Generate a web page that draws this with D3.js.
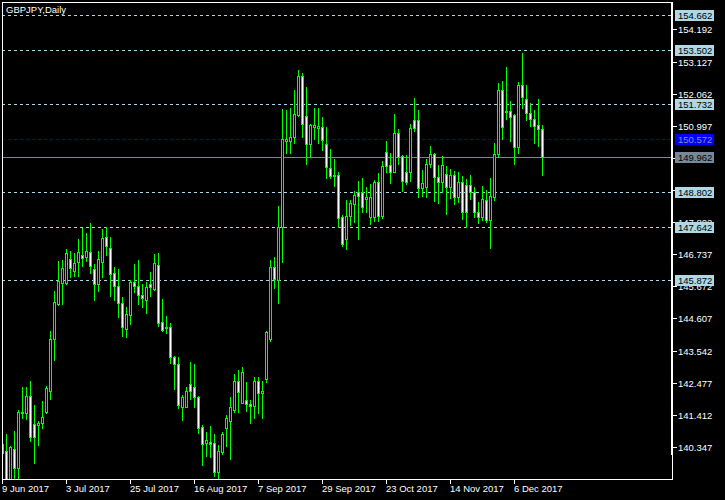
<!DOCTYPE html>
<html><head><meta charset="utf-8">
<script src="https://cdn.jsdelivr.net/npm/d3@7"></script>
<style>html,body{margin:0;padding:0;background:#000;}svg{display:block;}</style>
</head><body>
<script>
const symbolTitle = "GBPJPY,Daily";
const firstDate = "2017-06-09";
const open = [
140.15,140.21,139.02,140.27,139.65,141.46,141.46,142.03,141.10,141.08,
141.13,141.50,142.21,143.92,145.09,145.77,145.77,146.59,146.19,146.47,
146.71,146.64,146.80,146.24,145.74,146.49,147.30,146.93,146.10,145.67,
145.11,144.25,144.71,145.82,145.69,145.38,145.21,145.74,145.57,146.37,
144.48,144.32,144.31,143.33,143.09,141.66,141.68,142.42,142.35,142.00,
141.00,140.49,140.50,140.47,139.50,140.19,140.96,141.22,141.57,142.53,
141.81,141.90,141.77,141.71,142.53,142.12,142.59,143.93,146.30,145.88,
147.63,150.50,150.50,150.64,151.36,152.65,151.32,150.38,150.97,150.93,
150.95,150.38,149.61,149.36,149.36,147.96,147.25,148.02,148.41,148.81,
148.81,148.56,147.96,147.96,149.12,148.02,150.12,149.70,149.47,150.75,
150.00,149.45,149.45,151.18,151.18,148.92,148.96,149.72,150.06,149.29,
149.12,149.39,148.98,149.37,148.63,149.12,149.02,149.02,148.79,148.15,
147.96,148.53,147.87,148.63,150.05,152.17,151.49,151.49,151.35,150.30,
152.34,151.88,151.41,151.21,151.01,150.88];
const high = [
140.58,140.78,140.39,140.87,141.57,142.33,142.33,142.53,141.74,141.21,
141.87,142.37,144.19,145.52,146.51,146.55,146.90,146.84,146.77,147.24,
147.62,147.44,147.77,146.40,146.84,147.57,147.63,147.31,146.31,146.25,
145.32,144.99,145.87,146.41,146.55,145.75,145.81,146.16,146.75,146.78,
145.25,144.69,144.46,143.37,143.34,142.07,142.33,143.16,143.11,142.04,
141.07,140.85,141.04,140.78,140.41,140.84,141.41,142.00,142.77,142.90,
143.00,142.51,141.90,142.68,142.68,142.54,144.19,146.55,146.65,148.34,
151.55,151.52,151.58,152.18,152.85,152.75,152.28,151.06,151.58,151.58,
151.28,150.95,150.22,149.91,149.45,148.04,148.54,148.54,148.83,149.17,
149.28,148.97,149.07,149.20,149.42,149.83,150.49,150.09,151.39,150.89,
150.03,150.03,151.06,151.91,151.52,149.53,149.90,150.33,150.09,149.70,
150.00,149.66,149.56,149.50,149.46,149.33,149.23,149.37,148.97,148.47,
149.00,148.87,149.26,150.43,152.42,152.48,152.94,151.82,151.39,152.44,
153.41,152.35,151.76,151.52,151.88,151.02];
const low = [
139.98,138.75,138.75,138.85,138.92,141.30,141.27,140.55,139.82,140.41,
140.98,141.46,141.94,143.23,145.05,145.10,145.76,145.97,146.02,146.02,
146.36,146.51,146.12,145.23,145.52,145.99,146.71,145.36,145.23,144.67,
144.04,144.00,144.43,145.47,145.10,144.98,144.80,145.36,145.55,144.37,
144.20,144.13,143.14,142.26,141.63,141.23,141.67,141.93,141.68,140.82,
139.75,140.05,140.02,139.39,139.28,140.10,140.38,139.96,141.51,141.51,
141.81,141.55,141.15,141.32,141.46,141.32,142.51,143.87,145.63,145.13,
146.48,150.10,150.10,150.42,151.32,150.64,149.74,149.97,150.55,150.44,
150.19,149.26,149.26,149.01,147.65,147.02,146.91,147.71,147.82,147.24,
148.15,148.15,147.74,147.85,147.85,147.95,149.45,149.11,149.45,149.73,
148.84,149.07,149.18,150.83,148.65,148.68,148.65,149.64,148.51,148.43,
148.79,148.06,148.59,148.39,148.48,147.91,147.63,148.57,147.98,147.78,
147.87,147.81,146.94,148.54,149.97,150.56,151.21,150.50,149.73,150.10,
151.59,151.19,151.00,150.44,150.33,149.37];
const close = [
140.44,139.02,140.35,139.66,141.50,141.52,142.04,140.69,140.69,141.15,
141.33,142.29,143.92,145.14,145.85,146.27,146.77,146.29,146.44,146.80,
146.62,146.83,146.34,145.74,146.57,147.27,147.00,146.07,145.67,145.11,
144.31,144.75,145.82,145.69,145.38,145.28,145.64,145.64,146.44,144.46,
144.23,144.28,143.32,143.09,141.73,142.00,142.20,142.19,141.99,140.96,
140.43,140.58,140.43,139.52,140.21,140.78,141.32,141.67,142.53,142.16,
142.83,141.76,141.69,142.53,142.12,142.20,144.15,146.30,145.91,147.63,
150.57,150.57,150.64,151.38,152.65,151.05,150.38,151.02,151.02,150.99,
150.54,149.62,149.34,149.32,147.95,147.07,148.02,148.43,148.70,148.68,
148.29,148.63,148.63,149.12,148.02,149.66,149.67,149.47,150.75,149.95,
149.18,149.14,150.91,150.91,148.92,149.09,149.72,150.05,149.29,149.12,
149.70,148.98,149.37,148.63,149.12,148.13,148.15,148.79,148.15,147.96,
148.56,147.87,148.66,150.05,152.17,150.97,151.46,151.30,150.30,152.34,
151.96,151.43,151.21,151.00,150.88,149.962];
const xTickLabels = ["9 Jun 2017","3 Jul 2017","25 Jul 2017","16 Aug 2017","7 Sep 2017","29 Sep 2017","23 Oct 2017","14 Nov 2017","6 Dec 2017"];
const yTickLabels = ["154.192","153.127","152.062","150.997","149.932","148.867","147.802","146.737","145.672","144.607","143.542","142.477","141.412","140.347"];
const levelLines = [154.662,153.502,151.732,148.802,147.642,145.872];
const markerLevel = 150.572;
const bidLevel = 149.962;
const priceMin = 139.283, priceMax = 155.103;

// trading days (weekdays) for each bar
const dates = [];
{ let d = new Date(firstDate + "T00:00:00");
  while (dates.length < open.length) { const w = d.getDay(); if (w !== 0 && w !== 6) dates.push(new Date(d)); d.setDate(d.getDate() + 1); } }
const bars = open.map((o,i)=>({date:dates[i], o, h:high[i], l:low[i], c:close[i]}));

const W = 725, H = 500;
const L = 2, T = 2, R = 672, B = 479;
const font = "'Liberation Sans', Arial, sans-serif";
const svg = d3.select("body").append("svg").attr("width", W).attr("height", H)
  .attr("shape-rendering","crispEdges");
svg.append("rect").attr("width", W).attr("height", H).attr("fill", "#000");

const x = d3.scaleBand().domain(dates.map(d=>+d)).range([0, dates.length*4]);
const y = d3.scaleLinear().domain([priceMin, priceMax]).range([B, T]);
const px = d => Math.round(x(+d)) + 2; // wick column

svg.append("defs").append("clipPath").attr("id","plot")
  .append("rect").attr("x", L+1).attr("y", T+1).attr("width", R-L-1).attr("height", B-T-1);

const plot = svg.append("g").attr("clip-path","url(#plot)");

// level lines
plot.selectAll("line.lvl").data(levelLines).join("line").attr("class","lvl")
  .attr("x1", L).attr("x2", R).attr("y1", d=>Math.round(y(d))+0.5).attr("y2", d=>Math.round(y(d))+0.5)
  .attr("stroke","#a6d8e6").attr("stroke-width",1).attr("stroke-dasharray","3,3");
plot.append("line").attr("x1",L).attr("x2",R)
  .attr("y1",Math.round(y(markerLevel))+0.5).attr("y2",Math.round(y(markerLevel))+0.5)
  .attr("stroke","#0000d0").attr("stroke-dasharray","3,3");
plot.append("line").attr("x1",L).attr("x2",R)
  .attr("y1",Math.round(y(bidLevel))+0.5).attr("y2",Math.round(y(bidLevel))+0.5)
  .attr("stroke","#778899");

// candles
const green = "#00ff00";
const g = plot.selectAll("g.bar").data(bars).join("g").attr("class","bar");
g.append("rect").attr("x", d=>px(d.date)).attr("width",1)
  .attr("y", d=>Math.round(y(d.h))).attr("height", d=>Math.max(1, Math.round(y(d.l))-Math.round(y(d.h))+1))
  .attr("fill", green);
g.each(function(d){
  const top = Math.round(y(Math.max(d.o,d.c))), bot = Math.round(y(Math.min(d.o,d.c)));
  const sel = d3.select(this), cx = px(d.date);
  sel.append("rect").attr("x", cx-1).attr("width",3).attr("y", top).attr("height", Math.max(1, bot-top+1)).attr("fill", green);
  if (bot - top >= 2) {
    sel.append("rect").attr("x", cx).attr("width",1).attr("y", top+1).attr("height", bot-top-1)
      .attr("fill", d.c < d.o ? "#ffffff" : "#000000");
  }
});

// frame
svg.append("path").attr("d", `M${L+0.5},${B+0.5}V${T+0.5}H${R+0.5}V${B+0.5}H${L+0.5}`)
  .attr("fill","none").attr("stroke","#fff");
svg.append("line").attr("x1",R-0.5).attr("x2",R-0.5).attr("y1",T).attr("y2",455).attr("stroke","#fff");

// y axis ticks
const yt = svg.append("g");
yTickLabels.forEach(s=>{
  const yy = Math.round(y(+s));
  yt.append("line").attr("x1",R).attr("x2",R+5).attr("y1",yy+0.5).attr("y2",yy+0.5).attr("stroke","#fff");
  yt.append("text").attr("x",R+6).attr("y",yy+3.5).attr("fill","#fff")
    .attr("font-family",font).attr("font-size","9.5px").attr("shape-rendering","auto").text(s);
});

// level label boxes
function box(v, bg, fg){
  const yy = Math.round(y(v));
  svg.append("rect").attr("x",R+3).attr("y",yy-5).attr("width",39).attr("height",11).attr("fill",bg);
  svg.append("text").attr("x",R+6).attr("y",yy+3.5).attr("fill",fg)
    .attr("font-family",font).attr("font-size","9.5px").text(v.toFixed(3));
}
levelLines.forEach(v=>box(v,"#add8e6","#000"));
box(markerLevel,"#0000ff","#8a8ad8");
box(bidLevel,"#778899","#000");

// x axis
const parseT = d3.timeParse("%d %b %Y");
const xt = svg.append("g");
xTickLabels.forEach(s=>{
  const d = parseT(s);
  const xx = px(d);
  xt.append("line").attr("x1",xx+0.5).attr("x2",xx+0.5).attr("y1",B).attr("y2",B+5).attr("stroke","#fff");
  xt.append("text").attr("x",xx).attr("y",492).attr("fill","#fff")
    .attr("font-family",font).attr("font-size","9.5px").text(s);
});

// title
svg.append("text").attr("x",6).attr("y",13).attr("fill","#fff")
  .attr("font-family",font).attr("font-size","9.5px").text(symbolTitle);
</script>
</body></html>
